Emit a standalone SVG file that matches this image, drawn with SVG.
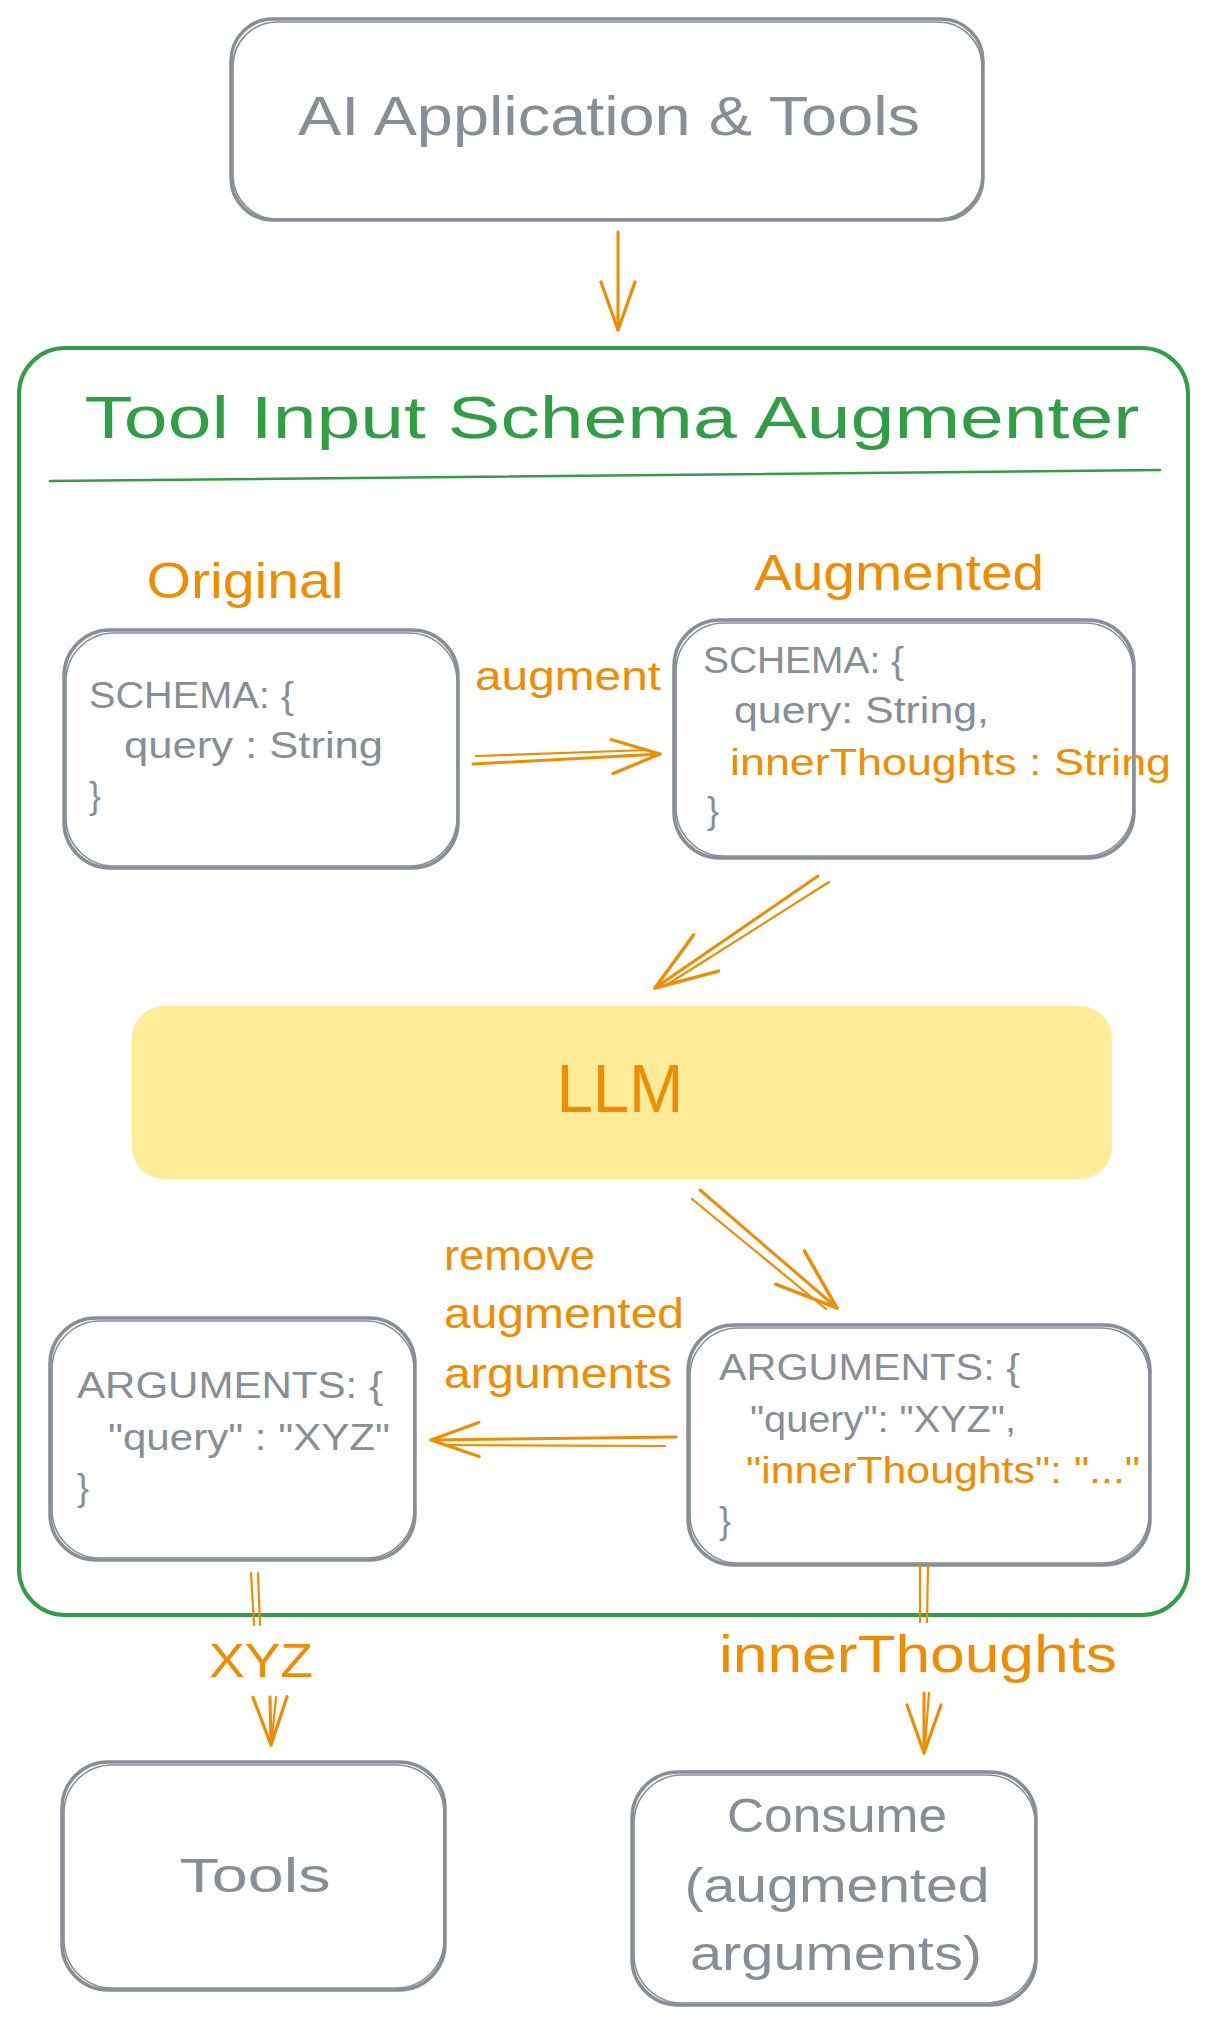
<svg xmlns="http://www.w3.org/2000/svg" width="1206" height="2022" viewBox="0 0 1206 2022">
<defs>
<style>
.box{fill:#ffffff;stroke:#868e96;stroke-width:3.5}
.box2{fill:none;stroke:#868e96;stroke-width:1.6}
.t{font-family:"Liberation Sans",Arial,sans-serif}
.gray{fill:#868e96}
.or{fill:#f08c00}
.gr{fill:#2f9e44}
.arr{fill:none;stroke:#f08c00;stroke-width:3;stroke-linecap:round}
.arr2{fill:none;stroke:#f08c00;stroke-width:2.2;stroke-linecap:round}
</style>
<marker id="ah" viewBox="-60 -25 70 50" refX="0" refY="0" markerWidth="70" markerHeight="50" markerUnits="userSpaceOnUse" orient="auto">
<path d="M-48,-17 L0,0 L-48,17" fill="none" stroke="#f08c00" stroke-width="3.2" stroke-linecap="round" stroke-linejoin="round"/>
</marker>
<marker id="ahL" viewBox="-70 -30 80 60" refX="0" refY="0" markerWidth="80" markerHeight="60" markerUnits="userSpaceOnUse" orient="auto">
<path d="M-62,-22 L0,0 L-62,22" fill="none" stroke="#f08c00" stroke-width="3.4" stroke-linecap="round" stroke-linejoin="round"/>
</marker>
</defs>
<rect x="0" y="0" width="1206" height="2022" fill="#ffffff"/>

<g id="n-top">
<rect class="box" x="231" y="19" width="752" height="201" rx="42"/>
<rect class="box2" x="233" y="22" width="749" height="197" rx="44"/>
<text class="t gray" x="609" y="135" font-size="56" text-anchor="middle" textLength="622" lengthAdjust="spacingAndGlyphs">AI Application &amp; Tools</text>
</g>

<g id="n-frame">
<rect x="19" y="348" width="1169" height="1267" rx="46" fill="none" stroke="#2f9e44" stroke-width="4"/>
<text class="t gr" x="612" y="438" font-size="60" text-anchor="middle" textLength="1055" lengthAdjust="spacingAndGlyphs">Tool Input Schema Augmenter</text>
<path d="M50,481 L1160,470" fill="none" stroke="#2f9e44" stroke-width="2.5" stroke-linecap="round"/>
</g>

<g id="n-original">
<text class="t or" x="245" y="598" font-size="50" text-anchor="middle" textLength="197" lengthAdjust="spacingAndGlyphs">Original</text>
<rect class="box" x="64" y="630" width="394" height="238" rx="46"/>
<rect class="box2" x="66" y="633" width="391" height="233" rx="48"/>
<text class="t gray" x="89" y="708" font-size="36" textLength="205" lengthAdjust="spacingAndGlyphs">SCHEMA: {</text>
<text class="t gray" x="124" y="758" font-size="36" textLength="259" lengthAdjust="spacingAndGlyphs">query : String</text>
<text class="t gray" x="89" y="808" font-size="36">}</text>
</g>

<g id="n-augmented">
<text class="t or" x="899" y="590" font-size="50" text-anchor="middle" textLength="290" lengthAdjust="spacingAndGlyphs">Augmented</text>
<rect class="box" x="674" y="620" width="460" height="238" rx="46"/>
<rect class="box2" x="676" y="623" width="457" height="233" rx="48"/>
<text class="t gray" x="703" y="673" font-size="36" textLength="201" lengthAdjust="spacingAndGlyphs">SCHEMA: {</text>
<text class="t gray" x="734" y="723" font-size="36" textLength="255" lengthAdjust="spacingAndGlyphs">query: String,</text>
<text class="t or" x="730" y="775" font-size="36" textLength="441" lengthAdjust="spacingAndGlyphs">innerThoughts : String</text>
<text class="t gray" x="707" y="823" font-size="36">}</text>
</g>

<g id="n-llm">
<rect x="132" y="1006" width="980" height="173" rx="32" fill="#ffec99"/>
<text class="t or" x="620" y="1112" font-size="68" text-anchor="middle" textLength="127" lengthAdjust="spacingAndGlyphs">LLM</text>
</g>

<g id="n-args-left">
<rect class="box" x="50" y="1318" width="365" height="242" rx="46"/>
<rect class="box2" x="52" y="1321" width="362" height="237" rx="48"/>
<text class="t gray" x="77" y="1398" font-size="36" textLength="306" lengthAdjust="spacingAndGlyphs">ARGUMENTS: {</text>
<text class="t gray" x="108" y="1450" font-size="36" textLength="282" lengthAdjust="spacingAndGlyphs">"query" : "XYZ"</text>
<text class="t gray" x="77" y="1500" font-size="36">}</text>
</g>

<g id="n-args-right">
<rect class="box" x="688" y="1325" width="462" height="240" rx="46"/>
<rect class="box2" x="690" y="1328" width="459" height="235" rx="48"/>
<text class="t gray" x="719" y="1380" font-size="36" textLength="301" lengthAdjust="spacingAndGlyphs">ARGUMENTS: {</text>
<text class="t gray" x="750" y="1432" font-size="36" textLength="266" lengthAdjust="spacingAndGlyphs">"query": "XYZ",</text>
<text class="t or" x="746" y="1483" font-size="36" textLength="394" lengthAdjust="spacingAndGlyphs">"innerThoughts": "..."</text>
<text class="t gray" x="719" y="1533" font-size="36">}</text>
</g>

<g id="n-tools">
<rect class="box" x="62" y="1762" width="383" height="228" rx="46"/>
<rect class="box2" x="64" y="1765" width="380" height="223" rx="48"/>
<text class="t gray" x="255" y="1892" font-size="48" text-anchor="middle" textLength="151" lengthAdjust="spacingAndGlyphs">Tools</text>
</g>

<g id="n-consume">
<rect class="box" x="632" y="1772" width="404" height="233" rx="46"/>
<rect class="box2" x="634" y="1775" width="401" height="228" rx="48"/>
<text class="t gray" x="837" y="1832" font-size="48" text-anchor="middle" textLength="220" lengthAdjust="spacingAndGlyphs">Consume</text>
<text class="t gray" x="837" y="1902" font-size="48" text-anchor="middle" textLength="305" lengthAdjust="spacingAndGlyphs">(augmented</text>
<text class="t gray" x="836" y="1970" font-size="48" text-anchor="middle" textLength="292" lengthAdjust="spacingAndGlyphs">arguments)</text>
</g>

<g id="connectors">
<path class="arr" d="M618,232 L618,330" marker-end="url(#ah)"/>

<path class="arr" d="M473,764 L660,754" marker-end="url(#ah)"/>
<path class="arr2" d="M476,756 L648,750"/>

<path class="arr" d="M818,876 L655,988" marker-end="url(#ahL)"/>
<path class="arr2" d="M829,882 L668,984"/>

<path class="arr" d="M700,1190 L837,1308" marker-end="url(#ahL)"/>
<path class="arr2" d="M692,1199 L826,1309"/>

<path class="arr" d="M676,1437 L431,1440" marker-end="url(#ah)"/>
<path class="arr2" d="M665,1446 L446,1445"/>

<path class="arr2" d="M251,1573 L254,1625"/>
<path class="arr2" d="M258,1573 L260,1625"/>
<path class="arr" d="M270,1697 L271,1745" marker-end="url(#ah)"/>
<path class="arr2" d="M276,1697 L272,1738"/>

<path class="arr2" d="M920,1565 L920,1622"/>
<path class="arr2" d="M928,1565 L927,1622"/>
<path class="arr" d="M924,1693 L924,1753" marker-end="url(#ah)"/>
<path class="arr2" d="M929,1693 L925,1745"/>
</g>

<g id="edge-labels">
<text class="t or" x="568" y="690" font-size="40" text-anchor="middle" textLength="186" lengthAdjust="spacingAndGlyphs">augment</text>
<text class="t or" x="444" y="1270" font-size="42" textLength="151" lengthAdjust="spacingAndGlyphs">remove</text>
<text class="t or" x="444" y="1328" font-size="42" textLength="240" lengthAdjust="spacingAndGlyphs">augmented</text>
<text class="t or" x="444" y="1388" font-size="42" textLength="228" lengthAdjust="spacingAndGlyphs">arguments</text>
<text class="t or" x="261" y="1677" font-size="48" text-anchor="middle" textLength="104" lengthAdjust="spacingAndGlyphs">XYZ</text>
<text class="t or" x="918" y="1672" font-size="52" text-anchor="middle" textLength="398" lengthAdjust="spacingAndGlyphs">innerThoughts</text>
</g>
</svg>
